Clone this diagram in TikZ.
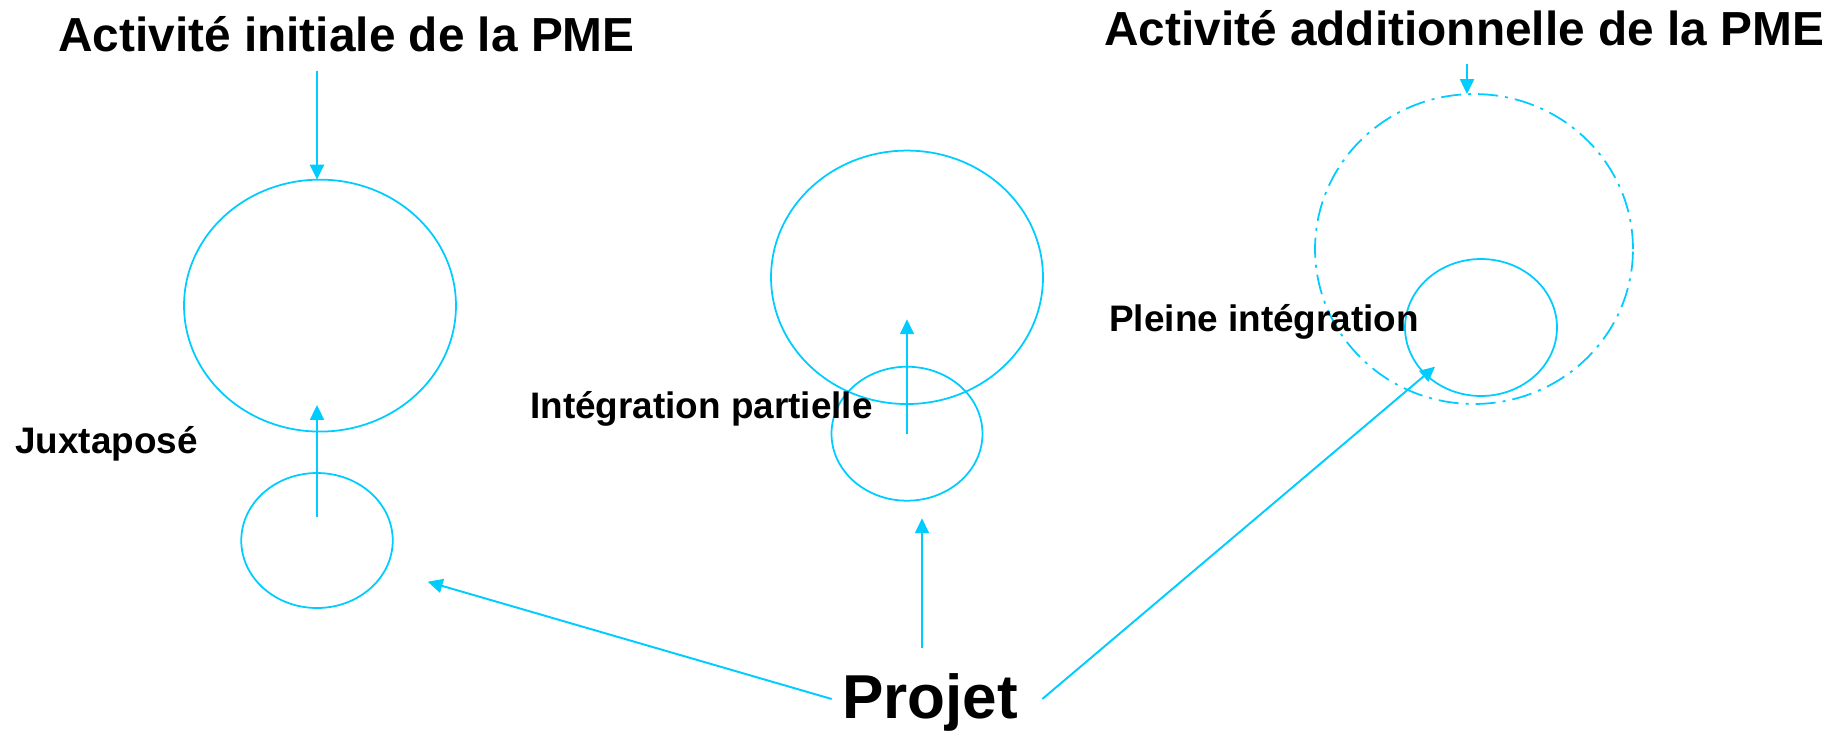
\documentclass[tikz,border=0pt]{standalone}
\usepackage{fontspec}
\setmainfont{Liberation Sans}
\usepackage{tikz}
\usetikzlibrary{calc,positioning,arrows.meta,shapes.geometric}
\definecolor{ringblue}{RGB}{0,204,255}

\begin{document}
\begin{tikzpicture}[
        x=0.02cm, y=-0.02cm, % one unit = one pixel of the drawing
        ring/.style={ellipse, draw=ringblue, line width=1pt, inner sep=0pt, outer sep=0pt},
        dashring/.style={ring, dash pattern=on 11.4pt off 4pt on 1.7pt off 4pt},
        arr/.style={draw=ringblue, line width=1.1pt, -{Triangle[length=8.5pt, width=8pt]}},
        lbl/.style={anchor=base west, inner sep=0pt, font=\bfseries\fontsize{21}{25}\selectfont},
        ttl/.style={lbl, font=\bfseries\fontsize{27.2}{32}\selectfont},
        big/.style={lbl, font=\bfseries\fontsize{35.3}{42}\selectfont}
    ]
        \useasboundingbox (0,0) rectangle (1843,731);

        % titles
        \node[ttl] (initiale) at (58,51.7) {Activité initiale de la PME};
        \node[ttl] (additionnelle) at (1104,45) {Activité additionnelle de la PME};

        % juxtaposed
        \node[ring, minimum width=5.44cm, minimum height=5.04cm] (pmeA) at (320,305.6) {};
        \node[ring, minimum width=3.03cm, minimum height=2.70cm] (projA) at (317,540.5) {};
        \node[lbl] (juxta) at (15,453) {Juxtaposé};

        % partial integration
        \node[ring, minimum width=5.44cm, minimum height=5.07cm] (pmeB) at (907,277.3) {};
        \node[ring, minimum width=3.02cm, minimum height=2.68cm] (projB) at (907,433.7) {};
        \node[lbl] (partielle) at (530,418.3) {Intégration partielle};

        % full integration
        \node[dashring, minimum width=6.36cm, minimum height=6.20cm] (pmeC) at (1474,249) {};
        \node[ring, minimum width=3.04cm, minimum height=2.74cm] (projC) at (1481,327.5) {};
        \node[lbl] (pleine) at (1109,331.7) {Pleine intégration};

        \node[big] (projet) at (842,718.3) {Projet};

        % free ends of the connectors
        \coordinate (t1) at (317,71);
        \coordinate (t2) at (1467,64);
        \coordinate (jBot) at (317,517);
        \coordinate (jTop) at (317,405);
        \coordinate (pTop) at (907,319.3);
        \coordinate (prUp) at (922,647.7);
        \coordinate (prUpTip) at (922,518.3);
        \coordinate (prL) at (831.7,699);
        \coordinate (prLTip) at (427.7,581.7);
        \coordinate (prR) at (1042.3,699);
        \coordinate (prRTip) at (1435,366.7);

        \draw[arr] (t1) -- (t1 |- pmeA.north);
        \draw[arr] (t2) -- (t2 |- pmeC.north);
        \draw[arr] (jBot) -- (jTop);
        \draw[arr] (projB.center) -- (pTop);
        \draw[arr] (prUp) -- (prUpTip);
        \draw[arr] (prL) -- (prLTip);
        \draw[arr] (prR) -- (prRTip);
    \end{tikzpicture}
\end{document}
